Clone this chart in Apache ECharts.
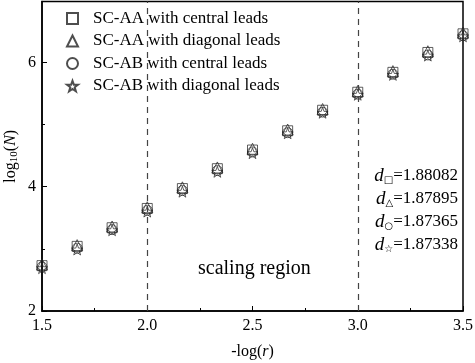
<!DOCTYPE html>
<html>
<head>
<meta charset="utf-8">
<script src="https://cdn.jsdelivr.net/npm/echarts@6/dist/echarts.min.js"></script>
<style>
  html, body { margin: 0; padding: 0; background: #fff; }
  #chart { width: 475px; height: 363px; }
</style>
</head>
<body>
<div id="chart"></div>
<script>
// -log(r) positions, same for all four curves
var xVals = [1.5, 1.667, 1.833, 2.0, 2.167, 2.333, 2.5, 2.667, 2.833, 3.0, 3.167, 3.333, 3.5];

// log10(N)
var aaCentral  = [2.73, 3.04, 3.34, 3.65, 3.97, 4.29, 4.59, 4.90, 5.23, 5.52, 5.84, 6.16, 6.46];
var aaDiagonal = [2.75, 3.06, 3.36, 3.67, 3.99, 4.31, 4.61, 4.92, 5.25, 5.54, 5.86, 6.18, 6.48];
var abCentral  = [2.71, 3.01, 3.31, 3.62, 3.94, 4.26, 4.56, 4.87, 5.20, 5.49, 5.81, 6.12, 6.43];
var abDiagonal = [2.69, 2.99, 3.30, 3.60, 3.92, 4.24, 4.54, 4.86, 5.19, 5.48, 5.80, 6.11, 6.42];

var seriesNames = ['SC-AA with central leads', 'SC-AA with diagonal leads',
                   'SC-AB with central leads', 'SC-AB with diagonal leads'];
var dimLabels = ['\u25A1', '\u25B3', '\u25CB', '\u2606'];
var dimValues = ['1.88082', '1.87895', '1.87365', '1.87338'];
var regionLines = [2.0, 3.0];
var xTicks = { min: 1.5, max: 3.5, step: 0.5 };
var yTicks = { min: 2, max: 6.98, step: 2 };

var serif = '"Liberation Serif", "Times New Roman", serif';
var star = 'path://M0,-10L2.35,-3.24L9.51,-3.09L3.8,1.24L5.88,8.09L0,4L-5.88,8.09L-3.8,1.24L-9.51,-3.09L-2.35,-3.24Z';

function pairs(ys) {
  return xVals.map(function (x, i) { return [x, ys[i]]; });
}

function scatter(name, ys, symbol, size) {
  return {
    name: name,
    type: 'scatter',
    data: pairs(ys),
    symbol: symbol,
    symbolSize: size,
    itemStyle: { color: 'rgba(0,0,0,0)', borderColor: '#222', borderWidth: 0.9 },
    emphasis: { disabled: true }
  };
}

var chart = echarts.init(document.getElementById('chart'));

var series = [
  scatter(seriesNames[0], aaCentral, 'rect', 10),
  scatter(seriesNames[1], aaDiagonal, 'triangle', 11),
  scatter(seriesNames[2], abCentral, 'circle', 10),
  scatter(seriesNames[3], abDiagonal, star, 11)
];
// dashed lines around the scaling region
series[0].markLine = {
  silent: true,
  symbol: 'none',
  label: { show: false },
  lineStyle: { color: '#444', type: [6, 5], width: 1.2 },
  data: regionLines.map(function (v) { return { xAxis: v }; })
};

// d values on the right side
var dTexts = dimLabels.map(function (s, i) {
  return {
    type: 'text',
    right: 17,
    top: 166 + i * 23,
    style: {
      text: '{d|d}{s|' + s + '}{v|=' + dimValues[i] + '}',
      fill: '#000',
      rich: {
        d: { fontFamily: serif, fontStyle: 'italic', fontSize: 19 },
        s: { fontFamily: '"DejaVu Sans"', fontSize: 10, verticalAlign: 'bottom', padding: [10, 0, 0, 0] },
        v: { fontFamily: serif, fontSize: 17 }
      }
    }
  };
});

chart.setOption({
  animation: false,
  grid: {
    left: 42, right: 12, top: 1.5, bottom: 52,
    containLabel: false,
    outerBoundsMode: 'none',
    show: true, borderColor: '#000', borderWidth: 1.5
  },
  legend: {
    orient: 'vertical',
    left: 61, top: 5,
    itemWidth: 11, itemHeight: 11, itemGap: 5.5,
    textStyle: { fontFamily: serif, fontSize: 17, color: '#000', padding: [0, 0, 0, 10] },
    data: seriesNames
  },
  xAxis: {
    type: 'value',
    min: xTicks.min, max: xTicks.max, interval: xTicks.step,
    name: '-log({i|r})',
    nameLocation: 'middle',
    nameGap: 33,
    nameMoveOverlap: false,
    nameTextStyle: {
      fontFamily: serif, fontSize: 16, color: '#000',
      rich: { i: { fontFamily: serif, fontSize: 16, fontStyle: 'italic' } }
    },
    axisLine: { lineStyle: { color: '#000', width: 1.5 } },
    axisTick: { inside: true, length: 5, lineStyle: { color: '#000' } },
    minorTick: { show: true, splitNumber: 2, length: 3, lineStyle: { color: '#000' } },
    axisLabel: {
      margin: 7, color: '#000', fontFamily: serif, fontSize: 16,
      formatter: function (v) { return v.toFixed(1); }
    },
    splitLine: { show: false }
  },
  yAxis: [{
    type: 'value',
    min: yTicks.min, max: yTicks.max, interval: yTicks.step,
    name: 'log{s|10}({i|N})',
    nameLocation: 'middle',
    nameGap: 22,
    nameMoveOverlap: false,
    nameRotate: 90,
    nameTextStyle: {
      fontFamily: serif, fontSize: 16, color: '#000',
      rich: {
        s: { fontFamily: serif, fontSize: 11, verticalAlign: 'bottom', padding: [8, 0, 0, 0] },
        i: { fontFamily: serif, fontSize: 16, fontStyle: 'italic' }
      }
    },
    axisLine: { lineStyle: { color: '#000', width: 1.5 } },
    axisTick: { inside: true, length: 5, lineStyle: { color: '#000' } },
    axisLabel: { margin: 6, color: '#000', fontFamily: serif, fontSize: 16, showMaxLabel: false },
    splitLine: { show: false }
  }, {
    // only for the short minor ticks at 3 and 5
    type: 'value',
    position: 'left',
    min: yTicks.min, max: yTicks.max, interval: 1,
    axisLine: { show: false },
    axisTick: { inside: true, length: 3, lineStyle: { color: '#000' } },
    axisLabel: { show: false },
    splitLine: { show: false }
  }],
  graphic: [{
    type: 'text',
    left: 198,
    top: 259,
    style: { text: 'scaling region', font: '20px ' + serif, fill: '#000' }
  }].concat(dTexts),
  series: series
});
</script>
</body>
</html>
